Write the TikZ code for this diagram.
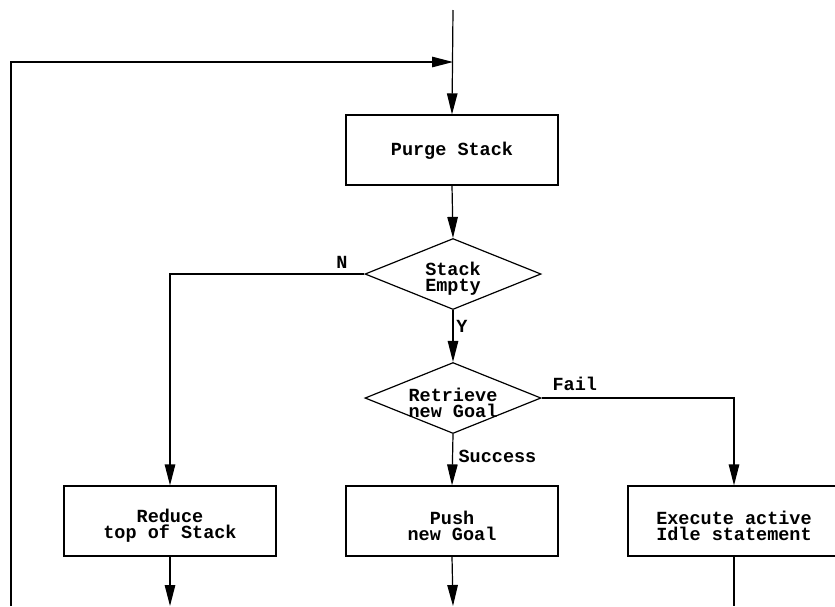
\documentclass[tikz,border=0pt]{standalone}
\usepackage{fontspec}
\setmonofont{Liberation Mono}
\usetikzlibrary{shapes.geometric,arrows.meta}
\begin{document}
\begin{tikzpicture}[x=1pt,y=-1pt,
  line width=1.2pt,
  flow/.style={-{Triangle[length=21pt,width=10.5pt]}},
  txt/.style={font=\ttfamily\bfseries\fontsize{18.5}{16}\selectfont, align=center, inner sep=0pt},
  twoline/.style={txt, yshift=-5pt},
  procbox/.style={draw, rectangle, minimum width=212pt, minimum height=70pt, inner sep=0pt},
  decision/.style={draw, diamond, aspect=2.45, minimum width=176pt, minimum height=71pt, inner sep=0pt},
  lbl/.style={txt}]
\useasboundingbox (0,0) rectangle (835,606);

% process boxes and decisions
\node[procbox]  (purge)  at (452,150) {};
\node[decision] (empty)  at (453,274) {};
\node[decision] (retr)   at (453,398) {};
\node[procbox]  (reduce) at (170,521) {};
\node[procbox]  (push)   at (452,521) {};
\node[procbox]  (exec)   at (734,521) {};

% their texts
\node[txt, yshift=-1pt] (purgetxt) at (purge) {Purge Stack};
\node[twoline] (emptytxt)  at (empty)  {Stack\\Empty};
\node[twoline] (retrtxt)   at (retr)   {Retrieve\\new Goal};
\node[twoline] (reducetxt) at (reduce) {Reduce\\top of Stack};
\node[twoline] (pushtxt)   at (push)   {Push\\new Goal};
\node[twoline] (exectxt)   at (exec)   {Execute active\\Idle statement};

% free ends of the flow lines
\coordinate (entry)   at (453,10);
\coordinate (join)    at (453,62);
\coordinate (loopbot) at (11,606);
\coordinate (outA)    at (170,606);
\coordinate (outB)    at (453,606);
\coordinate (outC)    at (734,606);

% connectors
\draw[flow] (entry) -- (purge.north);
\draw[flow] (loopbot) |- (join);
\draw[flow] (purge.south) -- (empty.north);
\draw[flow] (empty.south) -- (retr.north);
\draw[flow] (empty.west) -| (reduce.north);
\draw[flow] (retr.east) -| (exec.north);
\draw[flow] (retr.south) -- (push.north);
\draw[flow] (reduce.south) -- (outA);
\draw[flow] (push.south) -- (outB);
\draw (exec.south) -- (outC);

% branch labels
\node[lbl] (nlab) at (342,262) {N};
\node[lbl] (ylab) at (462,326) {Y};
\node[lbl, anchor=west] (slab) at (458,456) {Success};
\node[lbl, anchor=west] (flab) at (552,384) {Fail};
\end{tikzpicture}
\end{document}
